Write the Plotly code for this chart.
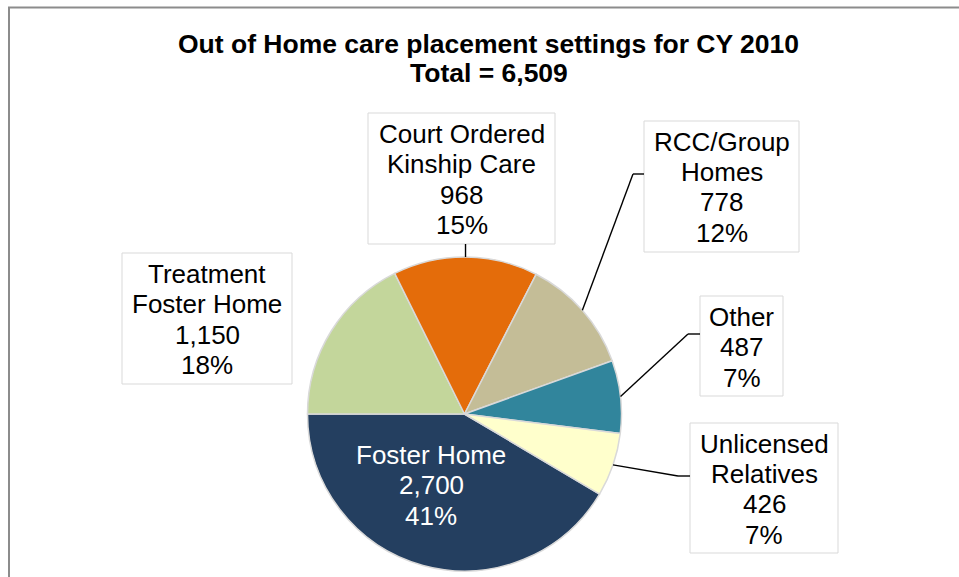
import math
import plotly.graph_objects as go

# ---------------- data ----------------
categories = ["Foster Home", "Treatment Foster Home", "Court Ordered Kinship Care",
              "RCC/Group Homes", "Other", "Unlicensed Relatives"]
label_lines = [["Foster Home"], ["Treatment", "Foster Home"], ["Court Ordered", "Kinship Care"],
               ["RCC/Group", "Homes"], ["Other"], ["Unlicensed", "Relatives"]]
values = [2700, 1150, 968, 778, 487, 426]
title_lines = ["Out of Home care placement settings for CY 2010", "Total = 6,509"]

# ---------------- style / layout ----------------
W, H = 959, 577
colors = ["#243F60", "#C3D69B", "#E46C0A", "#C4BD97", "#31859C", "#FFFFCC"]
FONT = "Liberation Sans, Arial, sans-serif"
FS = 26
TFS = 26.5
LS = 30.3
CX, CY, R = 464.5, 414.0, 157.0

# box: (left, top, right, bottom) in pixels, elbow points for leader lines
boxes = {
    "Treatment Foster Home": dict(box=(122, 253, 292, 384), leader=None),
    "Court Ordered Kinship Care": dict(box=(368, 113, 555, 244), leader="vertical"),
    "RCC/Group Homes": dict(box=(644, 121, 799, 252), leader=[(633, 174), (644, 174)]),
    "Other": dict(box=(700, 296, 783, 396), leader=[(688, 334), (700, 334)]),
    "Unlicensed Relatives": dict(box=(690, 423, 838, 553), leader=[(678, 476), (690, 476)]),
}
inside = {"Foster Home": dict(cx=431, first_baseline=464, color="white")}


def px(x):
    return x / W


def py(y):
    return 1 - y / H


total = sum(values)
rotation = 270 - 360 * values[0] / total

fig = go.Figure()
fig.add_trace(go.Pie(
    labels=categories, values=values, sort=False, direction="clockwise",
    rotation=rotation, textinfo="none", hoverinfo="label+value+percent",
    marker=dict(colors=colors, line=dict(color="#D9D9D9", width=1.5)),
    domain=dict(x=[px(CX - R), px(CX + R)], y=[py(CY + R), py(CY - R)]),
    showlegend=False,
))

annotations = []
shapes = []

# outer chart border
shapes.append(dict(type="rect", xref="paper", yref="paper",
                   x0=px(9), x1=px(W + 20), y0=py(H + 20), y1=py(7.5),
                   line=dict(color="#8C8C8C", width=2), fillcolor="rgba(0,0,0,0)"))

# title
for i, (t, base) in enumerate(zip(title_lines, [53.5, 82.5])):
    annotations.append(dict(text="<b>%s</b>" % t, xref="paper", yref="paper",
                            x=px(488.5), y=py(base - 0.35 * TFS), xanchor="center", yanchor="middle",
                            showarrow=False, font=dict(family=FONT, size=TFS, color="black")))

cum = 0
for cat, lines, v in zip(categories, label_lines, values):
    mid = math.radians(rotation + 360 * (cum + v / 2) / total)
    cum += v
    ex, ey = CX + R * math.sin(mid), CY - R * math.cos(mid)
    pct = "%d%%" % round(100 * v / total)
    text_lines = lines + ["{:,}".format(v), pct]
    if cat in boxes:
        b = boxes[cat]
        l, t, r, bt = b["box"]
        shapes.append(dict(type="rect", xref="paper", yref="paper",
                           x0=px(l), x1=px(r), y0=py(bt), y1=py(t),
                           line=dict(color="#D9D9D9", width=1), fillcolor="white", layer="above"))
        xc = (l + r) / 2
        base0 = t + 30
        col = "black"
        lead = b["leader"]
        if lead == "vertical":
            shapes.append(dict(type="line", xref="paper", yref="paper",
                               x0=px(ex), y0=py(ey), x1=px(ex), y1=py(bt),
                               line=dict(color="black", width=1.4)))
        elif lead:
            pts = [(ex, ey)] + lead
            for (xa, ya), (xb, yb) in zip(pts[:-1], pts[1:]):
                shapes.append(dict(type="line", xref="paper", yref="paper",
                                   x0=px(xa), y0=py(ya), x1=px(xb), y1=py(yb),
                                   line=dict(color="black", width=1.4)))
    else:
        ins = inside[cat]
        xc = ins["cx"]
        base0 = ins["first_baseline"]
        col = ins["color"]
    for k, ln in enumerate(text_lines):
        base = base0 + k * LS
        annotations.append(dict(text=ln, xref="paper", yref="paper",
                                x=px(xc), y=py(base - 0.35 * FS), xanchor="center", yanchor="middle",
                                showarrow=False, font=dict(family=FONT, size=FS, color=col)))

fig.update_layout(
    width=W, height=H, margin=dict(l=0, r=0, t=0, b=0),
    paper_bgcolor="white", plot_bgcolor="white",
    annotations=annotations, shapes=shapes,
)

fig.write_html("out.html", config={"displayModeBar": False},
               post_script="document.body.style.margin='0';")
